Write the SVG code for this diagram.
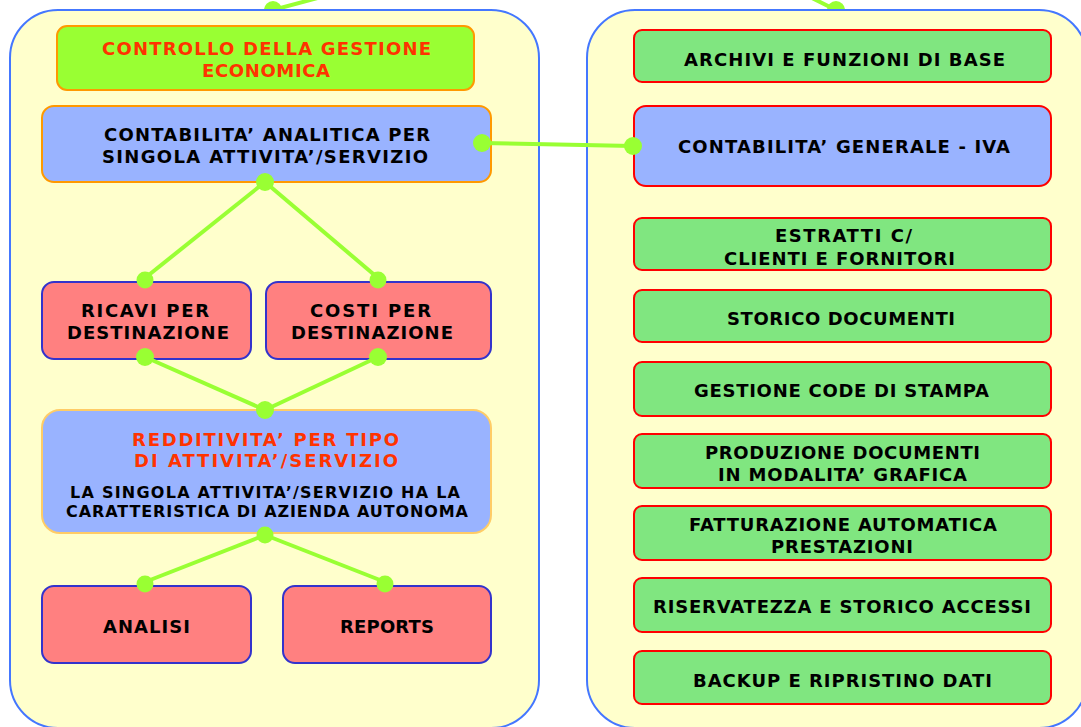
<svg xmlns="http://www.w3.org/2000/svg" width="1081" height="727" viewBox="0 0 1081 727">
<style>
.cont{fill:#ffffcc;stroke:#4477ff;stroke-width:2}
.box{stroke-width:2}
.green1{fill:#99ff33;stroke:#ff9900}
.blueO{fill:#99b3ff;stroke:#ff9900}
.blueY{fill:#99b3ff;stroke:#ffcc66}
.blueR{fill:#99b3ff;stroke:#ff0000}
.red{fill:#ff8080;stroke:#3333cc}
.grn{fill:#80e680;stroke:#ff0000}
text{font-family:"DejaVu Sans","Verdana","Liberation Sans",sans-serif;font-weight:bold;font-size:18px;fill:#000000}
.rt{fill:#ff3300}
.sm{font-size:16px}
.ln{stroke:#99ff33;stroke-width:4;fill:none}
.dot{fill:#99ff33}
</style>
<defs>
<clipPath id="topclip"><rect x="0" y="-20" width="1081" height="29"/></clipPath>
</defs>
<g id="stubs" clip-path="url(#topclip)">
<line class="ln" x1="273" y1="10" x2="325" y2="-4"/>
<circle class="dot" cx="273" cy="10" r="9"/>
<line class="ln" x1="836" y1="10" x2="812" y2="-2"/>
<circle class="dot" cx="836" cy="10" r="9"/>
</g>
<g id="container-left"><rect class="cont" x="10" y="10" width="529" height="718" rx="48"/></g>
<g id="container-right"><rect class="cont" x="587" y="10" width="500" height="718" rx="48"/></g>

<g id="n-controllo"><rect class="box green1" x="57" y="26" width="417" height="64" rx="10"/>
<text class="rt" x="102" y="55" textLength="329" lengthAdjust="spacing">CONTROLLO DELLA GESTIONE</text>
<text class="rt" x="202" y="77" textLength="128" lengthAdjust="spacing">ECONOMICA</text></g>

<g id="n-contab-analitica"><rect class="box blueO" x="42" y="106" width="449" height="76" rx="12"/>
<text x="104" y="141" textLength="326" lengthAdjust="spacing">CONTABILITA’ ANALITICA PER</text>
<text x="102" y="163" textLength="326" lengthAdjust="spacing">SINGOLA ATTIVITA’/SERVIZIO</text></g>

<g id="n-ricavi"><rect class="box red" x="42" y="282" width="209" height="77" rx="12"/>
<text x="81" y="317" textLength="128" lengthAdjust="spacing">RICAVI PER</text>
<text x="67" y="339" textLength="162" lengthAdjust="spacing">DESTINAZIONE</text></g>

<g id="n-costi"><rect class="box red" x="266" y="282" width="225" height="77" rx="12"/>
<text x="310" y="317" textLength="121" lengthAdjust="spacing">COSTI PER</text>
<text x="291" y="339" textLength="162" lengthAdjust="spacing">DESTINAZIONE</text></g>

<g id="n-redditivita"><rect class="box blueY" x="42" y="410" width="449" height="123" rx="18"/>
<text class="rt" x="132" y="446" textLength="267" lengthAdjust="spacing">REDDITIVITA’ PER TIPO</text>
<text class="rt" x="134" y="467" textLength="264" lengthAdjust="spacing">DI ATTIVITA’/SERVIZIO</text>
<text class="sm" x="70" y="498" textLength="390" lengthAdjust="spacing">LA SINGOLA ATTIVITA’/SERVIZIO HA LA</text>
<text class="sm" x="66" y="517" textLength="402" lengthAdjust="spacing">CARATTERISTICA DI AZIENDA AUTONOMA</text></g>

<g id="n-analisi"><rect class="box red" x="42" y="586" width="209" height="77" rx="12"/>
<text x="103" y="633" textLength="87" lengthAdjust="spacing">ANALISI</text></g>

<g id="n-reports"><rect class="box red" x="283" y="586" width="208" height="77" rx="12"/>
<text x="340" y="633" textLength="94" lengthAdjust="spacing">REPORTS</text></g>

<g id="n-archivi"><rect class="box grn" x="634" y="30" width="417" height="52" rx="8"/>
<text x="684" y="66" textLength="321" lengthAdjust="spacing">ARCHIVI E FUNZIONI DI BASE</text></g>

<g id="n-contab-generale"><rect class="box blueR" x="634" y="106" width="417" height="80" rx="12"/>
<text x="678" y="153" textLength="332" lengthAdjust="spacing">CONTABILITA’ GENERALE - IVA</text></g>

<g id="n-estratti"><rect class="box grn" x="634" y="218" width="417" height="52" rx="8"/>
<text x="775" y="242" textLength="137" lengthAdjust="spacing">ESTRATTI C/</text>
<text x="724" y="265" textLength="231" lengthAdjust="spacing">CLIENTI E FORNITORI</text></g>

<g id="n-storico"><rect class="box grn" x="634" y="290" width="417" height="52" rx="8"/>
<text x="727" y="325" textLength="228" lengthAdjust="spacing">STORICO DOCUMENTI</text></g>

<g id="n-gestione"><rect class="box grn" x="634" y="362" width="417" height="54" rx="8"/>
<text x="694" y="397" textLength="295" lengthAdjust="spacing">GESTIONE CODE DI STAMPA</text></g>

<g id="n-produzione"><rect class="box grn" x="634" y="434" width="417" height="54" rx="8"/>
<text x="705" y="459" textLength="275" lengthAdjust="spacing">PRODUZIONE DOCUMENTI</text>
<text x="718" y="481" textLength="249" lengthAdjust="spacing">IN MODALITA’ GRAFICA</text></g>

<g id="n-fatturazione"><rect class="box grn" x="634" y="506" width="417" height="54" rx="8"/>
<text x="689" y="531" textLength="308" lengthAdjust="spacing">FATTURAZIONE AUTOMATICA</text>
<text x="771" y="553" textLength="142" lengthAdjust="spacing">PRESTAZIONI</text></g>

<g id="n-riservatezza"><rect class="box grn" x="634" y="578" width="417" height="54" rx="8"/>
<text x="653" y="613" textLength="378" lengthAdjust="spacing">RISERVATEZZA E STORICO ACCESSI</text></g>

<g id="n-backup"><rect class="box grn" x="634" y="651" width="417" height="53" rx="8"/>
<text x="693" y="687" textLength="299" lengthAdjust="spacing">BACKUP E RIPRISTINO DATI</text></g>

<g id="connectors">
<line class="ln" x1="482" y1="143" x2="633" y2="146"/>
<line class="ln" x1="265" y1="182" x2="145" y2="278"/>
<line class="ln" x1="265" y1="182" x2="378" y2="278"/>
<line class="ln" x1="145" y1="357" x2="265" y2="410"/>
<line class="ln" x1="378" y1="357" x2="265" y2="410"/>
<line class="ln" x1="265" y1="535" x2="145" y2="582"/>
<line class="ln" x1="265" y1="535" x2="385" y2="582"/>
<circle class="dot" cx="482" cy="143" r="9"/>
<circle class="dot" cx="633" cy="146" r="9"/>
<circle class="dot" cx="265" cy="182" r="9"/>
<circle class="dot" cx="145" cy="280" r="8.5"/>
<circle class="dot" cx="378" cy="280" r="8.5"/>
<circle class="dot" cx="145" cy="357" r="9"/>
<circle class="dot" cx="378" cy="357" r="9"/>
<circle class="dot" cx="265" cy="410" r="9"/>
<circle class="dot" cx="265" cy="535" r="8.5"/>
<circle class="dot" cx="145" cy="584" r="8.5"/>
<circle class="dot" cx="385" cy="584" r="8.5"/>
</g>
</svg>
